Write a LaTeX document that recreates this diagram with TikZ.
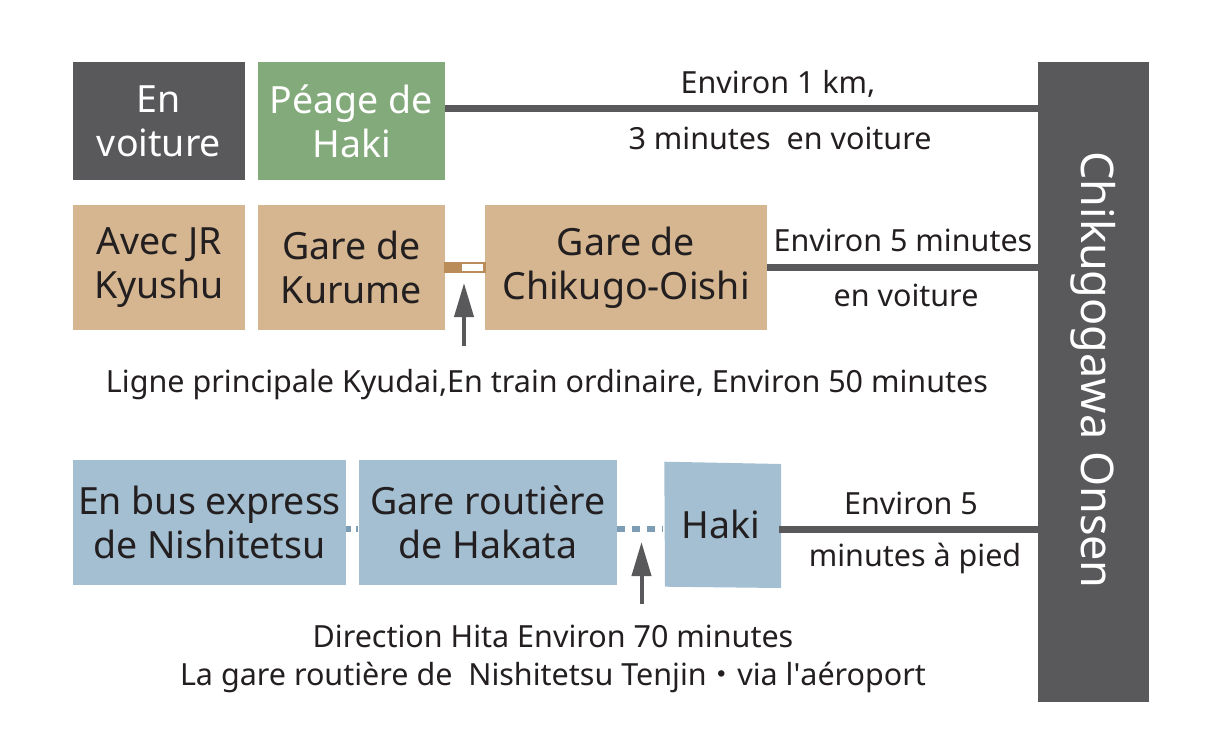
\documentclass[tikz,border=0pt]{standalone}
\usepackage{fontspec}
\setmainfont{Noto Sans}
\newfontfamily\plainfont{Noto Sans}
\newfontfamily\cjkfont{Noto Sans CJK JP}
\usetikzlibrary{arrows.meta}
\definecolor{dgray}{HTML}{59595B}
\definecolor{pgreen}{HTML}{82AA7A}
\definecolor{ptan}{HTML}{D5B690}
\definecolor{pblue}{HTML}{A3BFD1}
\definecolor{rail}{HTML}{B98C5A}
\definecolor{dashblue}{HTML}{7D9DB4}
\definecolor{txt}{HTML}{231F20}
\tikzset{
  box/.style={inner sep=0pt, align=center, text=txt, font=\fontsize{37.5}{44}\selectfont},
  lbl/.style={inner sep=0pt, text=txt, font=\fontsize{30.5}{38}\selectfont},
  conn/.style={draw=dgray, line width=7pt},
  dconn/.style={draw=dashblue, line width=6pt, dash pattern=on 8pt off 7pt},
  uparrow/.style={draw=dgray, line width=4pt, -{Triangle[width=19pt,length=34pt]}},
}
\begin{document}
\begin{tikzpicture}[x=1pt,y=-1pt]
\useasboundingbox (0,0) rectangle (1220,755);
% row 1
\node[box, fill=dgray, text=white, minimum width=172pt, minimum height=118pt] (car) at (159,121) {En\\voiture};
\node[box, fill=pgreen, text=white, minimum width=187pt, minimum height=118pt] (peage) at (351.5,121) {Péage de\\Haki};
\node[box, fill=dgray, minimum width=111pt, minimum height=640pt] (onsen) at (1093.5,382) {};
\node[rotate=-90, inner sep=0pt, text=white, font=\fontsize{45}{50}\selectfont] (onsentxt) at (1093.5,370) {Chikugogawa Onsen};
\draw[conn] ([yshift=13pt]peage.east) -- ([yshift=13pt]peage.east -| onsen.west);
\node[lbl] (l1a) at (778,84) {Environ 1 km,};
\node[lbl] (l1b) at (780,138) {3 minutes\ \ en voiture};
% row 2
\node[box, fill=ptan, minimum width=172pt, minimum height=125pt] (jr) at (159,267.5) {Avec JR\\Kyushu};
\node[box, fill=ptan, minimum width=187pt, minimum height=125pt] (kurume) at (351.5,267.5) {Gare de\\Kurume};
\node[box, fill=ptan, minimum width=282pt, minimum height=125pt] (oishi) at (626,267.5) {Gare de\\Chikugo-Oishi};
\draw[rail, line width=2.7pt, fill=white] ([yshift=4.5pt]kurume.east) rectangle ([yshift=-4.5pt]oishi.west);
\fill[rail] ([yshift=5.8pt]kurume.east) rectangle ([xshift=17pt,yshift=-5.8pt]kurume.east);
\coordinate (a1s) at (464,346);
\coordinate (a1e) at (464,283);
\draw[uparrow] (a1s) -- (a1e);
\draw[conn] (oishi.east) -- (oishi.east -| onsen.west);
\node[lbl] (l2a) at (903,240) {Environ 5 minutes};
\node[lbl] (l2b) at (906,295) {en voiture};
\node[lbl] (l2c) at (547,385) {Ligne principale Kyudai,En train ordinaire, Environ 50 minutes};
% row 3
\node[box, fill=pblue, minimum width=273pt, minimum height=125pt] (bus) at (209.5,522.5) {En bus express\\de Nishitetsu};
\node[box, fill=pblue, minimum width=258pt, minimum height=125pt] (hakata) at (488,522.5) {Gare routière\\de Hakata};
\fill[pblue] (664.3,461.7) -- (781,464) -- (781,588) -- (665,586.7) -- cycle;
\node[box, minimum width=116pt, minimum height=125pt] (haki) at (721,524.5) {Haki};
\draw[draw=dashblue, line width=6pt, dash pattern=on 5pt off 5pt on 2pt off 20pt] ([yshift=-6.5pt]bus.east) -- ([yshift=-6.5pt]hakata.west);
\draw[dconn] ([yshift=-6.5pt]hakata.east) -- ([yshift=-4.5pt]haki.west);
\draw[conn] ([yshift=-4.5pt]haki.east) -- ([yshift=-4.5pt]haki.east -| onsen.west);
\coordinate (a2s) at (641.5,604);
\coordinate (a2e) at (641.5,542);
\draw[uparrow] (a2s) -- (a2e);
\node[lbl] (l3a) at (911,503) {Environ 5};
\node[lbl] (l3b) at (915,558) {minutes à pied};
\node[lbl, align=center] (l3c) at (553,659) {Direction Hita Environ 70 minutes\\La gare routière de\ \ Nishitetsu Tenjin{\cjkfont ・}via l{\plainfont '}aéroport};
\end{tikzpicture}
\end{document}
